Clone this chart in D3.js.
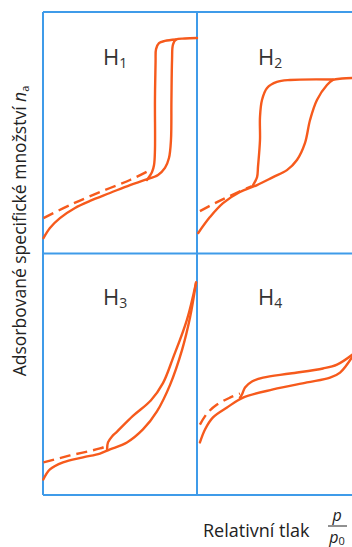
<!DOCTYPE html>
<html>
<head>
<meta charset="utf-8">
<script src="https://cdn.jsdelivr.net/npm/d3@7"></script>
<style>
  body { margin: 0; background: #fff; }
  svg text { font-family: "Open Sans", "Noto Sans", sans-serif; }
</style>
</head>
<body>
<div class="chart1"></div>
<script>
// relative pressure p/p0 (x) and adsorbed amount (y), both 0..1 inside one panel
var h1Ads = [[0.003,0.062],[0.045,0.104],[0.110,0.145],[0.208,0.187],[0.305,0.216],[0.435,0.249],[0.565,0.282],[0.662,0.303],[0.747,0.324],[0.792,0.353],[0.818,0.394],[0.831,0.469],[0.834,0.635],[0.838,0.802],[0.844,0.865],[0.864,0.886],[0.922,0.890],[1.0,0.892]];
var h1Des = [[0.675,0.303],[0.708,0.336],[0.721,0.365],[0.727,0.427],[0.727,0.635],[0.731,0.797],[0.734,0.846],[0.753,0.871],[0.792,0.880],[0.864,0.886]];
var h1Dash = [[0.003,0.145],[0.175,0.199],[0.370,0.253],[0.565,0.303],[0.682,0.340]];

var h2Ads = [[0.008,0.083],[0.084,0.149],[0.169,0.207],[0.279,0.253],[0.390,0.282],[0.494,0.315],[0.584,0.344],[0.649,0.386],[0.701,0.456],[0.734,0.552],[0.779,0.635],[0.844,0.697],[0.883,0.718],[0.942,0.724],[1.01,0.726]];
var h2Des = [[0.364,0.282],[0.390,0.315],[0.396,0.357],[0.409,0.469],[0.409,0.564],[0.422,0.635],[0.455,0.685],[0.519,0.710],[0.604,0.718],[0.883,0.720]];
var h2Dash = [[0.019,0.174],[0.117,0.207],[0.214,0.237],[0.357,0.278]];

var h3Ads = [[0.002,0.062],[0.045,0.104],[0.130,0.133],[0.260,0.154],[0.370,0.170],[0.435,0.187],[0.545,0.216],[0.649,0.270],[0.740,0.345],[0.825,0.455],[0.903,0.600],[0.955,0.735],[0.994,0.880]];
var h3Des = [[0.416,0.187],[0.422,0.216],[0.448,0.241],[0.481,0.261],[0.584,0.326],[0.700,0.390],[0.779,0.462],[0.844,0.566],[0.935,0.726],[0.994,0.880]];
var h3Dash = [[0.003,0.133],[0.175,0.162],[0.370,0.191],[0.422,0.203]];

var h4Ads = [[0.019,0.216],[0.052,0.270],[0.104,0.320],[0.195,0.361],[0.299,0.402],[0.494,0.436],[0.714,0.465],[0.864,0.485],[0.929,0.506],[1.01,0.573]];
var h4Des = [[0.279,0.402],[0.292,0.415],[0.312,0.444],[0.357,0.469],[0.429,0.485],[0.604,0.502],[0.818,0.523],[0.909,0.539],[1.01,0.581]];
var h4Dash = [[0.019,0.290],[0.065,0.336],[0.130,0.373],[0.214,0.402],[0.279,0.419]];

var panelNames = ["1", "2", "3", "4"];

var W = 352, H = 547;
var orange = "#f65a1c", blue = "#3f9be9";

var svg = d3.select(".chart1").append("svg").attr("width", W).attr("height", H);

// frame: L T, panel W H
var fLeft = 43, fTop = 12, pw = 154, ph = 241;

var panels = [
  {ads: h1Ads, des: h1Des, dash: h1Dash, col: 0, row: 0},
  {ads: h2Ads, des: h2Des, dash: h2Dash, col: 1, row: 0},
  {ads: h3Ads, des: h3Des, dash: h3Dash, col: 0, row: 1},
  {ads: h4Ads, des: h4Des, dash: h4Dash, col: 1, row: 1}
];

// blue frame lines
var frame = svg.append("g").attr("stroke", blue).attr("stroke-width", 2).attr("fill", "none");
frame.append("line").attr("x1", fLeft).attr("x2", W).attr("y1", fTop).attr("y2", fTop);
frame.append("line").attr("x1", fLeft).attr("x2", W).attr("y1", fTop + ph + 0.5).attr("y2", fTop + ph + 0.5);
frame.append("line").attr("x1", fLeft).attr("x2", W).attr("y1", fTop + 2 * ph + 1).attr("y2", fTop + 2 * ph + 1);
frame.append("line").attr("x1", fLeft).attr("x2", fLeft).attr("y1", fTop).attr("y2", fTop + 2 * ph + 1);
frame.append("line").attr("x1", fLeft + pw).attr("x2", fLeft + pw).attr("y1", fTop).attr("y2", fTop + 2 * ph + 1);

panels.forEach(function (p, i) {
  var x0 = fLeft + p.col * pw, y0 = fTop + p.row * (ph + 0.5);
  var x = d3.scaleLinear().domain([0, 1]).range([x0, x0 + pw]);
  var y = d3.scaleLinear().domain([0, 1]).range([y0 + ph, y0]);
  var line = d3.line()
    .x(function (d) { return x(d[0]); })
    .y(function (d) { return y(d[1]); })
    .curve(d3.curveCatmullRom.alpha(0.5));

  var g = svg.append("g").attr("fill", "none").attr("stroke", orange)
    .attr("stroke-width", 2.4).attr("stroke-linecap", "round");
  g.append("path").attr("d", line(p.ads));
  g.append("path").attr("d", line(p.des));
  g.append("path").attr("d", line(p.dash)).attr("stroke-dasharray", "11,6").attr("stroke-linecap", "butt");

  var lbl = svg.append("text")
    .attr("x", x0 + (p.col ? 61 : 60))
    .attr("y", y0 + (p.row ? 51 : 53))
    .attr("fill", "#333").attr("font-size", 22);
  lbl.append("tspan").text("H");
  lbl.append("tspan").attr("font-size", 14).attr("dy", 3).text(panelNames[i]);
});

// y axis title
var yt = svg.append("text")
  .attr("transform", "translate(26,231) rotate(-90)")
  .attr("text-anchor", "middle").attr("fill", "#222").attr("font-size", 17.5);
yt.append("tspan").text("Adsorbované specifické množství ");
yt.append("tspan").attr("font-style", "italic").text("n");
yt.append("tspan").attr("font-size", 11).attr("dy", 3).text("a");

// x axis title
svg.append("text").attr("x", 203).attr("y", 537)
  .attr("fill", "#222").attr("font-size", 18).text("Relativní tlak");
svg.append("text").attr("x", 337).attr("y", 521).attr("text-anchor", "middle")
  .attr("fill", "#222").attr("font-size", 16).attr("font-style", "italic").text("p");
svg.append("line").attr("x1", 328).attr("x2", 347).attr("y1", 526).attr("y2", 526)
  .attr("stroke", "#222").attr("stroke-width", 1);
var den = svg.append("text").attr("x", 337).attr("y", 543).attr("text-anchor", "middle")
  .attr("fill", "#222").attr("font-size", 16);
den.append("tspan").attr("font-style", "italic").text("p");
den.append("tspan").attr("font-size", 11).attr("dy", 2).text("0");
</script>
</body>
</html>
